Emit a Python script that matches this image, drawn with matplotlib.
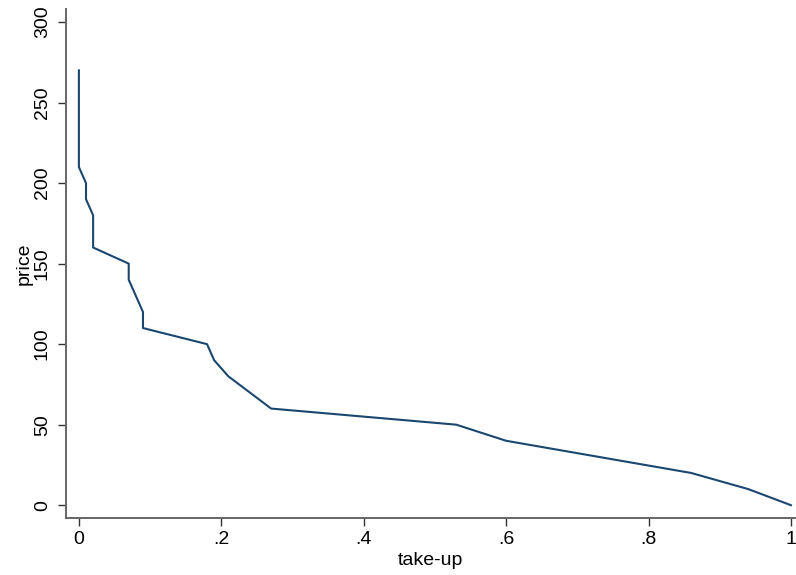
import matplotlib
matplotlib.use('Agg')
import matplotlib.pyplot as plt

## demand curve data: price and share taking up at that price
price = [270, 260, 250, 240, 230, 220, 210, 200, 190, 180, 170, 160, 150, 140,
         130, 120, 110, 100, 90, 80, 70, 60, 50, 40, 30, 20, 10, 0]
takeup = [0, 0, 0, 0, 0, 0, 0, 0.01, 0.01, 0.02, 0.02, 0.02, 0.07, 0.07,
          0.08, 0.09, 0.09, 0.18, 0.19, 0.21, 0.24, 0.27, 0.53, 0.60, 0.73, 0.86, 0.94, 1.0]

xticks = [0, 0.2, 0.4, 0.6, 0.8, 1.0]
xticklabels = ['0', '.2', '.4', '.6', '.8', '1']
yticks = [0, 50, 100, 150, 200, 250, 300]

plt.rcParams['font.family'] = ['Liberation Sans', 'DejaVu Sans']

fig = plt.figure(figsize=(7.96, 5.75), dpi=100)
ax = fig.add_axes([0.083, 0.099, 0.916, 0.885])
ax.plot(takeup, price, color='#1a476f', lw=1.5)

ax.set_xlim(-0.018, 1.006)
ax.set_ylim(-8, 308)
ax.set_xticks(xticks)
ax.set_xticklabels(xticklabels)
ax.set_yticks(yticks)
ax.set_yticklabels([str(v) for v in yticks], rotation=90, va='center')
ax.tick_params(labelsize=14, length=6, width=1, color='#333333', direction='out', pad=3)
ax.tick_params(axis='y', pad=5)

for s in ['top', 'right']:
    ax.spines[s].set_visible(False)
for s in ['left', 'bottom']:
    ax.spines[s].set_color('#666666')
    ax.spines[s].set_linewidth(1.4)

ax.set_xlabel('take-up', fontsize=14, labelpad=3)
ax.set_ylabel('price', fontsize=14, labelpad=1)

fig.savefig('out.png', dpi=100)
